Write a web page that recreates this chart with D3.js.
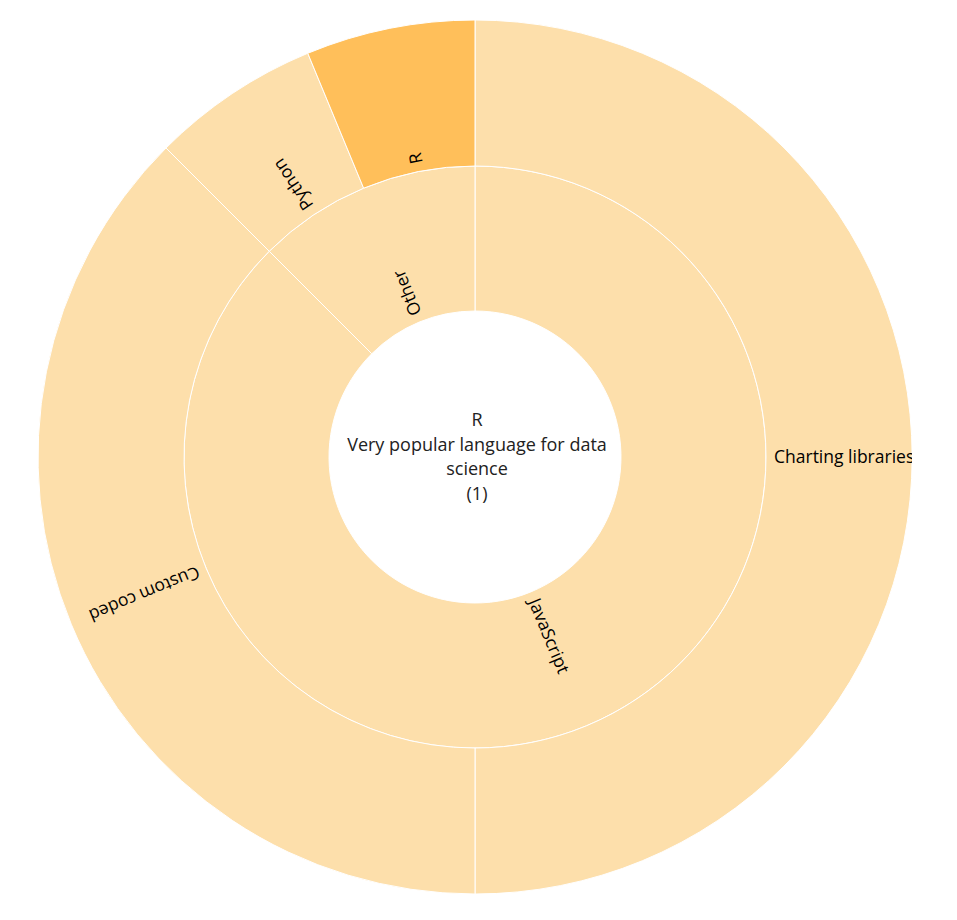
<!DOCTYPE html>
<html><head><meta charset="utf-8">
<script src="https://cdn.jsdelivr.net/npm/d3@7"></script>
<style>
html,body{margin:0;padding:0;background:#fff;}
svg{position:absolute;left:38px;top:20px;overflow:hidden;font-family:"Open Sans","Noto Sans",sans-serif;}
</style></head><body>
<script>
const parents = ["JavaScript", "Other"];
const children = ["Charting libraries", "Custom coded", "Python", "R"];
const childParent = ["JavaScript", "JavaScript", "Other", "Other"];
const childValues = [8, 6, 1, 1];
const centerTitle = "R";
const centerDesc = ["Very popular language for data", "science"];
const centerValue = 1;
const highlighted = "R";

const size = 874, radius = size / 2;
const ringR = [146, 291, 437];
const baseColor = "#fddfab", hiColor = "#ffbf5a";

const rootData = {name: "root", children: parents.map(p => ({
  name: p,
  children: children.map((c, i) => ({name: c, value: childValues[i], parent: childParent[i]})).filter(d => d.parent === p)
}))};
const root = d3.hierarchy(rootData).sum(d => d.value || 0);
d3.partition().size([2 * Math.PI, 3])(root);

const svg = d3.select("body").append("svg").attr("width", size).attr("height", size);
const g = svg.append("g").attr("transform", `translate(${radius},${radius})`);

const arc = d3.arc()
  .startAngle(d => d.x0).endAngle(d => d.x1)
  .innerRadius(d => ringR[d.depth - 1]).outerRadius(d => ringR[d.depth]);

const nodes = root.descendants().filter(d => d.depth > 0);
g.selectAll("path").data(nodes).join("path")
  .attr("d", arc)
  .attr("fill", d => d.data.name === highlighted ? hiColor : baseColor)
  .attr("stroke", "#fff").attr("stroke-width", 1);

g.selectAll("text.lbl").data(nodes).join("text").attr("class", "lbl")
  .attr("transform", d => {
    const a = (d.x0 + d.x1) / 2 * 180 / Math.PI - 90;
    return `rotate(${a}) translate(${ringR[d.depth - 1] + 8},0)`;
  })
  .attr("dy", "0.35em")
  .attr("font-size", 17.5)
  .attr("fill", "#000")
  .text(d => d.data.name);

const lines = [centerTitle, ...centerDesc, `(${centerValue})`];
const ct = g.append("text").attr("text-anchor", "middle").attr("font-size", 18).attr("fill", "#222");
ct.selectAll("tspan").data(lines).join("tspan")
  .attr("x", 2).attr("y", (d, i) => -37 + i * 24.5).attr("dy", "0.35em").text(d => d);
</script>
</body></html>
